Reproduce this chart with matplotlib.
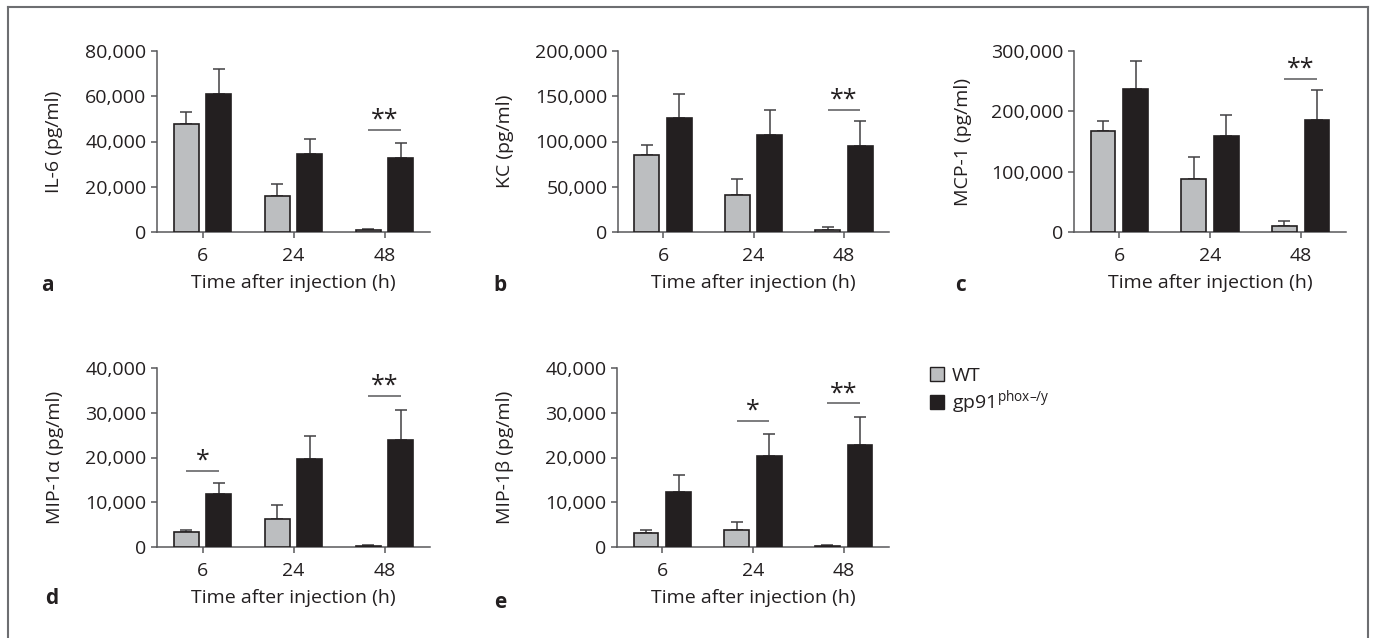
import matplotlib
matplotlib.use("Agg")
import matplotlib.pyplot as plt
from matplotlib.patches import Patch
from matplotlib.lines import Line2D
from matplotlib.ticker import FuncFormatter
import numpy as np

plt.rcParams['font.family'] = ['Open Sans', 'DejaVu Sans']
plt.rcParams['mathtext.fontset'] = 'custom'
plt.rcParams['mathtext.rm'] = 'Open Sans'

# ---- data ----
times = ['6', '24', '48']
groups = ['WT', 'gp91$^{\\mathrm{phox–/y}}$']

il6_wt = [47600, 16000, 1000]
il6_wt_err = [5300, 5200, 500]
il6_ko = [60900, 34500, 32600]
il6_ko_err = [11000, 6500, 6900]

kc_wt = [84800, 41300, 2500]
kc_wt_err = [11000, 17700, 2500]
kc_ko = [126400, 107600, 95000]
kc_ko_err = [26500, 27600, 27300]

mcp_wt = [167400, 88500, 9400]
mcp_wt_err = [16100, 35800, 8800]
mcp_ko = [237000, 158600, 185100]
mcp_ko_err = [46400, 36000, 49700]

mip1a_wt = [3280, 6250, 300]
mip1a_wt_err = [440, 3050, 150]
mip1a_ko = [11750, 19560, 23800]
mip1a_ko_err = [2600, 5200, 6900]

mip1b_wt = [3160, 3900, 300]
mip1b_wt_err = [590, 1650, 200]
mip1b_ko = [12180, 20440, 22700]
mip1b_ko_err = [3970, 4740, 6300]

ylabels = ['IL-6 (pg/ml)', 'KC (pg/ml)', 'MCP-1 (pg/ml)', 'MIP-1α (pg/ml)', 'MIP-1β (pg/ml)']
ymax = [80000, 200000, 300000, 40000, 40000]
ystep = [20000, 50000, 100000, 10000, 10000]
letters = ['a', 'b', 'c', 'd', 'e']
# significance: (group index, line height, label)
sig_a = [(2, 45000, '**')]
sig_b = [(2, 135200, '**')]
sig_c = [(2, 254200, '**')]
sig_d = [(0, 17000, '*'), (2, 33800, '**')]
sig_e = [(1, 28100, '*'), (2, 32100, '**')]

panels = [
    (il6_wt, il6_wt_err, il6_ko, il6_ko_err, sig_a),
    (kc_wt, kc_wt_err, kc_ko, kc_ko_err, sig_b),
    (mcp_wt, mcp_wt_err, mcp_ko, mcp_ko_err, sig_c),
    (mip1a_wt, mip1a_wt_err, mip1a_ko, mip1a_ko_err, sig_d),
    (mip1b_wt, mip1b_wt_err, mip1b_ko, mip1b_ko_err, sig_e),
]

# ---- layout (pixels) ----
W, H = 1375, 638
boxes = [(157, 430, 51, 232), (618, 889, 51, 232), (1074, 1346, 51, 232),
         (157, 430, 368, 547), (617, 889, 368, 547)]
ylab_x = [63, 514, 972, 64, 514]
letter_pos = [(47, 285), (500, 285), (960, 285), (52, 599), (500, 602)]

GRAY = '#bcbec0'
DARK = '#231f20'
AXC = '#58595b'
FS = 14

fig = plt.figure(figsize=(W / 100, H / 100), dpi=100)

x = np.arange(len(times))
off = 0.18
bw = 0.275

for i, (wt, wte, ko, koe, sigs) in enumerate(panels):
    l, r, t, b = boxes[i]
    ax = fig.add_axes([l / W, 1 - b / H, (r - l) / W, (b - t) / H])
    ax.bar(x - off, wt, bw, color=GRAY, edgecolor=DARK, linewidth=1.2, zorder=3)
    ax.bar(x + off, ko, bw, color=DARK, edgecolor=DARK, linewidth=1.2, zorder=3)
    ax.errorbar(x - off, wt, yerr=[np.zeros(3), wte], fmt='none', ecolor='#414042',
                elinewidth=1.1, capsize=4, capthick=1.1, zorder=2)
    ax.errorbar(x + off, ko, yerr=[np.zeros(3), koe], fmt='none', ecolor='#414042',
                elinewidth=1.1, capsize=4, capthick=1.1, zorder=2)
    for gi, ly, lab in sigs:
        ax.plot([gi - off, gi + off], [ly, ly], color=AXC, lw=1.1, solid_capstyle='butt')
        ax.annotate(lab, xy=(gi, ly), xytext=(0, -2), textcoords='offset points',
                    ha='center', va='bottom', fontsize=18, color=DARK)
    ax.set_xlim(-0.5, 2.5)
    ax.set_ylim(0, ymax[i])
    ax.set_yticks(np.arange(0, ymax[i] + 1, ystep[i]))
    ax.yaxis.set_major_formatter(FuncFormatter(lambda v, p: f'{int(v):,}'))
    ax.set_xticks(x)
    ax.set_xticklabels(times)
    for s in ['top', 'right']:
        ax.spines[s].set_visible(False)
    for s in ['left', 'bottom']:
        ax.spines[s].set_color(AXC)
        ax.spines[s].set_linewidth(1.1)
    ax.tick_params(axis='both', colors=AXC, labelcolor=DARK, labelsize=FS, length=4.5, width=1.1)
    ax.tick_params(axis='x', pad=6)
    ax.tick_params(axis='y', pad=3)
    ax.set_ylabel(ylabels[i], fontsize=FS, color=DARK)
    ax.yaxis.set_label_coords((ylab_x[i] - l) / (r - l), 0.5)
    ax.set_xlabel('Time after injection (h)', fontsize=FS, color=DARK)
    ax.xaxis.set_label_coords(0.5, -42 / (b - t))
    lx, lyy = letter_pos[i]
    fig.text(lx / W, 1 - lyy / H, letters[i], fontsize=FS + 1, fontweight='bold',
             ha='center', va='center', color=DARK)

# legend
handles = [Patch(facecolor=GRAY, edgecolor=DARK, linewidth=1.0),
           Patch(facecolor=DARK, edgecolor=DARK, linewidth=1.0)]
fig.legend(handles, groups, loc='upper left', bbox_to_anchor=(930 / W, 1 - 367 / H),
           frameon=False, fontsize=FS, handlelength=0.72, handleheight=0.72,
           handletextpad=0.4, labelspacing=0.15, borderaxespad=0, borderpad=0,
           labelcolor=DARK)

# outer frame (left, top, right; open at bottom)
fc = '#6d6e71'
fig.add_artist(Line2D([8 / W, 8 / W], [0, 1 - 7 / H], transform=fig.transFigure, color=fc, lw=1.5))
fig.add_artist(Line2D([8 / W, 1368 / W], [1 - 7 / H, 1 - 7 / H], transform=fig.transFigure, color=fc, lw=1.5))
fig.add_artist(Line2D([1368 / W, 1368 / W], [0, 1 - 7 / H], transform=fig.transFigure, color=fc, lw=1.5))

fig.savefig('out.png', dpi=100)
